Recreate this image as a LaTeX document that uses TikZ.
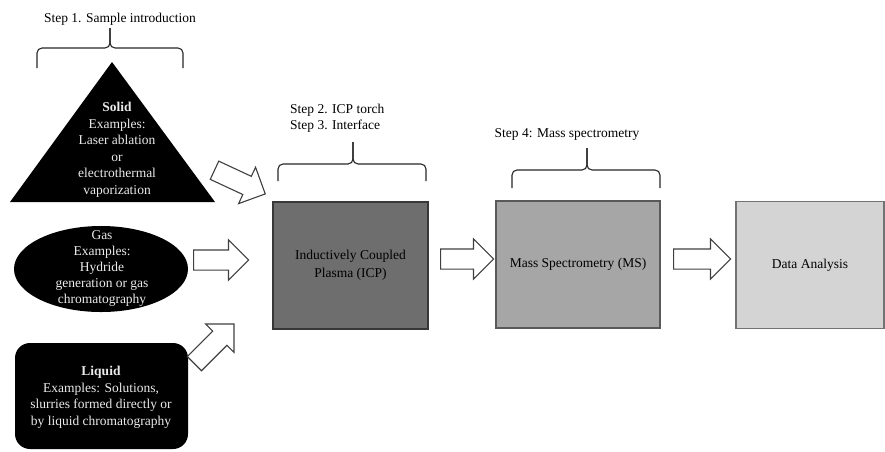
\documentclass[tikz,border=0pt]{standalone}
\usepackage{fontspec}
\setmainfont{Liberation Serif}
\usetikzlibrary{shapes.arrows}
\begin{document}
\begin{tikzpicture}[x=1pt,y=-1pt,
  lbl/.style={font=\fontsize{13.5}{16.5}\selectfont, align=center, inner sep=0pt},
  darklbl/.style={lbl, text=white!92!black},
  stage/.style={draw=black!65, line width=1.3pt, minimum height=127pt, inner sep=0pt,
                font=\fontsize{13.5}{18}\selectfont, align=center, text=black},
  blockarrow/.style={single arrow, draw=black!75, fill=white, line width=1.1pt,
                inner xsep=0pt, inner ysep=9.5pt, single arrow head extend=10pt,
                single arrow tip angle=90, anchor=tail},
  bracepath/.style={draw=black!85, line width=1.1pt, rounded corners=5pt}]
\useasboundingbox (0,0) rectangle (885,451);

% ---- step 1: sample introduction ----
\node[lbl] (s1) at (120,19) {Step 1. Sample introduction};
\draw[bracepath] (37,68) |- (110,48) -- (110,28);
\draw[bracepath] (183,68) |- (110,48) -- (110,28);

% solid sample
\coordinate (tA) at (112,62);
\coordinate (tB) at (10,202);
\coordinate (tC) at (215,202);
\fill[black] (tA) -- (tB) -- (tC) -- cycle;
\node[darklbl] (solid) at (117,149.5)
  {\textbf{Solid}\\Examples:\\Laser ablation\\or\\electrothermal\\vaporization};

% gas sample
\fill[black] (101,269) ellipse [x radius=87, y radius=43];
\node[darklbl, font=\fontsize{13.5}{16}\selectfont] (gas) at (102,268)
  {Gas\\Examples:\\Hydride\\generation or gas\\chromatography};

% liquid sample
\fill[black, rounded corners=15pt] (15,343) rectangle (188,449);
\node[darklbl] (liquid) at (101,397.5)
  {\textbf{Liquid}\\Examples: Solutions,\\slurries formed directly or\\by liquid chromatography};

% ---- step 2/3 ----
\node[lbl, align=left, anchor=west] (s23) at (290,118) {Step 2. ICP torch\\Step 3. Interface};
\draw[bracepath] (278,181) |- (353,164) -- (353,142);
\draw[bracepath] (426,181) |- (353,164) -- (353,142);

% ---- step 4 ----
\node[lbl] (s4) at (567,134) {Step 4: Mass spectrometry};
\draw[bracepath] (512,188) |- (587,170) -- (587,148);
\draw[bracepath] (660,188) |- (587,170) -- (587,148);

% ---- stages ----
\node[stage, fill=black!57, draw=black!78, minimum width=155pt] (icp) at (350.5,265.5)
  {Inductively Coupled\\Plasma (ICP)};
\node[stage, fill=black!35, minimum width=164pt] (ms) at (578,264.5)
  {Mass Spectrometry (MS)};
\node[stage, fill=black!17, draw=black!55, minimum width=148pt] (da) at (810,265)
  {Data Analysis};

% ---- flow arrows ----
\node[blockarrow, minimum height=56pt, rotate=-25] (a1) at (214,170) {};
\node[blockarrow, minimum height=55pt] (a2) at (193,260) {};
\node[blockarrow, minimum height=56pt, rotate=45] (a3) at (194,364) {};
\node[blockarrow, minimum height=53pt] (a4) at (440,259) {};
\node[blockarrow, minimum height=57pt] (a5) at (673,259) {};
\end{tikzpicture}
\end{document}
